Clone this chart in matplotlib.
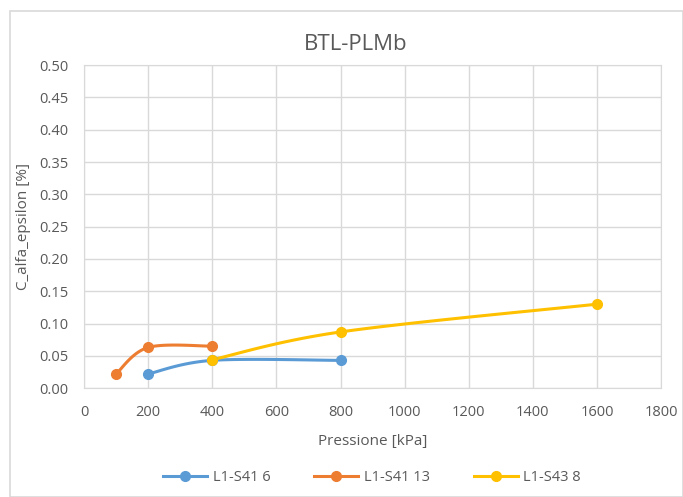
import numpy as np
import matplotlib.pyplot as plt
from matplotlib.patches import Rectangle

title = "BTL-PLMb"
x_label = "Pressione [kPa]"
y_label = "C_alfa_epsilon [%]"

names = ["L1-S41 6", "L1-S41 13", "L1-S43 8"]
colors = ["#5B9BD5", "#ED7D31", "#FFC000"]
x_vals = [[200, 400, 800], [100, 200, 400], [400, 800, 1600]]
y_vals = [[0.022, 0.043, 0.043], [0.022, 0.063, 0.065], [0.044, 0.087, 0.130]]


def smooth(xs, ys, n=40):
    # excel-like smoothing: catmull-rom turned into bezier segments
    p = np.column_stack([xs, ys]).astype(float)
    pts = np.vstack([p[0], p, p[-1]])
    out = []
    for i in range(1, len(pts) - 2):
        p0, p1, p2, p3 = pts[i - 1], pts[i], pts[i + 1], pts[i + 2]
        c1 = p1 + (p2 - p0) / 6
        c2 = p2 - (p3 - p1) / 6
        t = np.linspace(0, 1, n)[:, None]
        seg = ((1 - t) ** 3) * p1 + 3 * ((1 - t) ** 2) * t * c1 + 3 * (1 - t) * t ** 2 * c2 + t ** 3 * p2
        out.append(seg)
    s = np.vstack(out)
    return s[:, 0], s[:, 1]


plt.rcParams['font.family'] = ['Open Sans', 'DejaVu Sans']
fig = plt.figure(figsize=(6.83, 4.97), dpi=100)
ax = fig.add_axes([0.123, 0.219, 0.845, 0.650])

for nm, c, xs, ys in zip(names, colors, x_vals, y_vals):
    sx, sy = smooth(xs, ys)
    ax.plot(sx, sy, color=c, lw=2.2, solid_capstyle='round', zorder=3)
    ax.plot(xs, ys, 'o', color=c, ms=7, zorder=4)
    ax.plot([], [], color=c, lw=2.2, marker='o', ms=7, label=nm)

ax.set_xlim(0, 1800)
ax.set_ylim(0, 0.5)
ax.set_xticks(np.arange(0, 1801, 200))
ax.set_yticks(np.arange(0, 0.501, 0.05))
ax.yaxis.set_major_formatter(plt.FuncFormatter(lambda v, _: f"{v:.2f}"))
ax.grid(True, color="#D9D9D9", lw=1)
ax.set_axisbelow(True)
for s in ax.spines.values():
    s.set_color("#D9D9D9")
ax.tick_params(length=0, labelsize=10.5, colors="#595959")
ax.tick_params(axis='x', pad=12)
ax.tick_params(axis='y', pad=11)

ax.set_title(title, fontsize=16, color="#595959", pad=11, x=0.47)
ax.set_xlabel(x_label, fontsize=11, color="#595959", labelpad=10)
ax.set_ylabel(y_label, fontsize=11, color="#595959", labelpad=6)

fig.legend(loc='center', bbox_to_anchor=(0.545, 0.04), ncol=3, frameon=False,
           fontsize=10.5, labelcolor="#595959", columnspacing=3.0, handlelength=3,
           handletextpad=0.4)

fig.patches.append(Rectangle((0.014, 0.0), 0.986, 0.978, transform=fig.transFigure,
                             fill=False, edgecolor="#D9D9D9", lw=1.2))

fig.savefig("out.png", dpi=100)
